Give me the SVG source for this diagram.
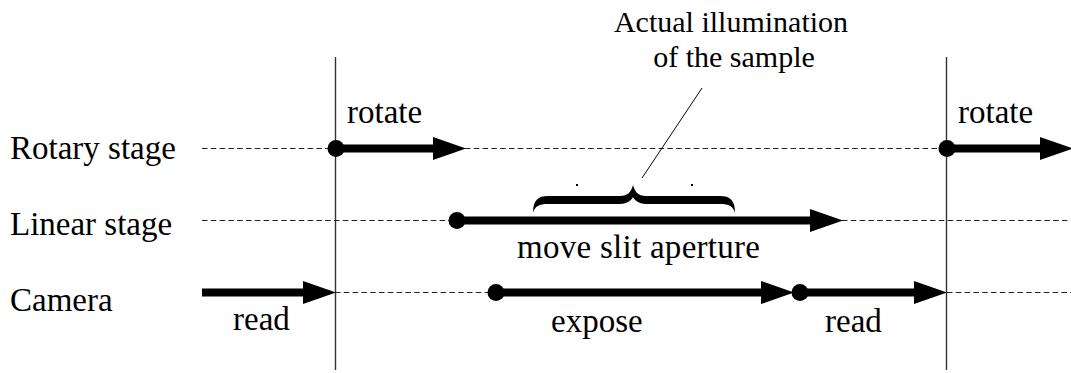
<svg xmlns="http://www.w3.org/2000/svg" width="1071" height="373" viewBox="0 0 1071 373">
<style>
  .t { font-family: 'Liberation Serif', 'Times New Roman', serif; font-size: 33px; fill: #000; }
  .note { font-size: 30px; text-anchor: middle; }
  .dash { stroke: #222; stroke-width: 1; stroke-dasharray: 5.5 3.3; fill: none; }
  .vline { stroke: #333; stroke-width: 1.4; fill: none; }
  .bar { stroke: #000; stroke-width: 8; fill: none; marker-end: url(#head); }
  .dot { fill: #000; }
</style>
<defs>
  <marker id="head" markerUnits="userSpaceOnUse" markerWidth="33" markerHeight="23" viewBox="0 0 33 23" refX="0" refY="11.5" orient="auto">
    <path d="M0,0 L33,11.5 L0,23 Z" fill="#000"/>
  </marker>
</defs>
<rect width="1071" height="373" fill="#fff"/>

<g id="labels">
  <text class="t" x="10" y="159">Rotary stage</text>
  <text class="t" x="10" y="235">Linear stage</text>
  <text class="t" x="10" y="311">Camera</text>
</g>

<g id="timeline">
  <line class="vline" x1="335.5" y1="57" x2="335.5" y2="370"/>
  <line class="vline" x1="946.5" y1="57" x2="946.5" y2="370"/>
  <line class="dash" x1="202" y1="148.5" x2="337" y2="148.5"/>
  <line class="dash" x1="465" y1="148.5" x2="948" y2="148.5"/>
  <line class="dash" x1="202" y1="220.5" x2="457" y2="220.5"/>
  <line class="dash" x1="842" y1="220.5" x2="1071" y2="220.5"/>
  <line class="dash" x1="335" y1="292.5" x2="496" y2="292.5"/>
  <line class="dash" x1="947" y1="292.5" x2="1071" y2="292.5"/>
</g>

<g id="connectors">
  <g id="rotate1">
    <circle class="dot" cx="336" cy="148.5" r="8.5"/>
    <line class="bar" x1="336" y1="148.5" x2="433" y2="148.5"/>
    <text class="t" x="347" y="123">rotate</text>
  </g>
  <g id="rotate2">
    <circle class="dot" cx="947" cy="148.5" r="8.5"/>
    <line class="bar" x1="947" y1="148.5" x2="1040" y2="148.5"/>
    <text class="t" x="958" y="123">rotate</text>
  </g>
  <g id="move">
    <circle class="dot" cx="457" cy="220.5" r="8.5"/>
    <line class="bar" x1="457" y1="220.5" x2="810" y2="220.5"/>
    <text class="t" x="517" y="258" textLength="243" lengthAdjust="spacing">move slit aperture</text>
  </g>
  <g id="read1">
    <line class="bar" x1="202" y1="292.5" x2="303" y2="292.5"/>
    <text class="t" x="233" y="330">read</text>
  </g>
  <g id="expose">
    <circle class="dot" cx="496" cy="292.5" r="8.5"/>
    <line class="bar" x1="496" y1="292.5" x2="761" y2="292.5"/>
    <text class="t" x="551" y="332">expose</text>
  </g>
  <g id="read2">
    <circle class="dot" cx="800" cy="292.5" r="8.5"/>
    <line class="bar" x1="800" y1="292.5" x2="914" y2="292.5"/>
    <text class="t" x="825" y="332">read</text>
  </g>
</g>

<g id="illumination">
  <path d="M533,213 C533,200 538,196 548,196 L620,196 C628,196 631,192 633,185 C635,192 638,196 646,196 L720,196 C730,196 735,200 735,213 C733,206 729,204 720,204 L646,204 C640,204 635,201 633,197 C631,201 626,204 620,204 L548,204 C539,204 535,206 533,213 Z" fill="#000"/>
  <rect x="576" y="184" width="2" height="2" fill="#000"/>
  <rect x="691" y="184" width="2" height="2" fill="#000"/>
  <line x1="702" y1="88" x2="642" y2="178" stroke="#000" stroke-width="1"/>
  <text class="t note" x="731" y="32">Actual illumination</text>
  <text class="t note" x="734" y="67">of the sample</text>
</g>
</svg>
